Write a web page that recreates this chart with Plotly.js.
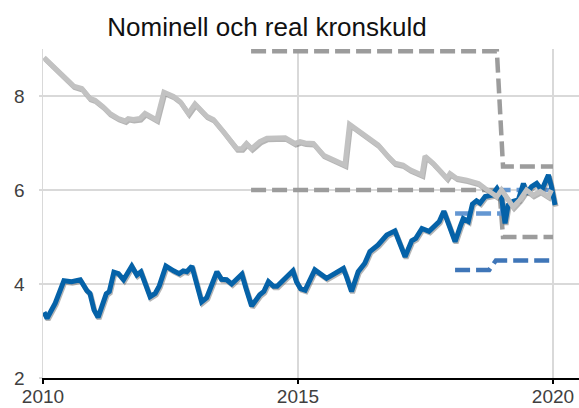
<!DOCTYPE html>
<html>
<head>
<meta charset="utf-8">
<script src="https://cdn.plot.ly/plotly-3.0.1.min.js"></script>
<style>html,body{margin:0;padding:0;background:#fff;}#chart{width:579px;height:408px;}</style>
</head>
<body>
<div id="chart"></div>
<script>
// Nominell kronskuld (blue) – decimal years and values
const nomYears = [2010.02,2010.08,2010.24,2010.41,2010.56,2010.73,2010.86,2010.92,2011.00,2011.08,2011.24,2011.30,2011.39,2011.48,2011.58,2011.74,2011.84,2011.92,2012.10,2012.20,2012.28,2012.41,2012.56,2012.67,2012.75,2012.82,2012.92,2013.11,2013.21,2013.41,2013.50,2013.60,2013.70,2013.90,2013.98,2014.09,2014.25,2014.33,2014.42,2014.52,2014.59,2014.78,2014.90,2014.97,2015.05,2015.14,2015.33,2015.56,2015.76,2015.89,2015.95,2016.05,2016.18,2016.31,2016.41,2016.57,2016.74,2016.90,2017.10,2017.23,2017.31,2017.43,2017.57,2017.72,2017.77,2017.86,2017.95,2018.08,2018.18,2018.24,2018.34,2018.42,2018.50,2018.57,2018.67,2018.80,2018.90,2018.99,2019.06,2019.12,2019.22,2019.32,2019.42,2019.48,2019.58,2019.68,2019.78,2019.91,2019.97,2020.04];
const nomValues = [3.40,3.27,3.59,4.07,4.05,4.09,3.86,3.80,3.45,3.29,3.79,3.84,4.25,4.22,4.09,4.38,4.19,4.26,3.73,3.80,3.96,4.38,4.28,4.22,4.28,4.26,4.38,3.62,3.71,4.26,4.10,4.09,4.00,4.21,3.91,3.53,3.77,3.84,4.05,3.95,3.95,4.14,4.28,4.05,3.90,3.87,4.30,4.12,4.26,4.33,4.16,3.84,4.26,4.44,4.69,4.83,5.04,5.13,4.58,4.92,4.97,5.18,5.12,5.26,5.33,5.55,5.26,4.90,5.22,5.39,5.33,5.70,5.77,5.72,5.86,5.89,6.03,5.86,5.29,5.68,5.76,5.79,6.14,5.93,6.07,6.14,6.00,6.32,6.07,5.68];

// Real kronskuld (grey)
const realYears = [2010.02,2010.33,2010.46,2010.60,2010.76,2010.92,2011.02,2011.18,2011.31,2011.48,2011.61,2011.67,2011.77,2011.90,2012.00,2012.23,2012.37,2012.56,2012.69,2012.85,2012.98,2013.21,2013.34,2013.54,2013.67,2013.80,2013.90,2013.99,2014.09,2014.25,2014.39,2014.75,2014.94,2015.04,2015.14,2015.30,2015.50,2015.66,2015.76,2015.92,2016.01,2016.18,2016.38,2016.57,2016.77,2016.90,2017.06,2017.20,2017.43,2017.49,2017.65,2017.92,2017.98,2018.11,2018.31,2018.54,2018.67,2018.80,2018.90,2018.99,2019.12,2019.22,2019.35,2019.48,2019.61,2019.75,2019.91,2019.97];
const realValues = [8.82,8.47,8.36,8.21,8.16,7.95,7.91,7.77,7.63,7.52,7.47,7.52,7.50,7.52,7.63,7.49,8.08,7.99,7.88,7.63,7.83,7.57,7.50,7.24,7.06,6.88,6.88,6.99,6.88,7.03,7.10,7.11,6.99,7.03,7.00,6.99,6.74,6.67,6.61,6.53,7.40,7.26,7.10,6.96,6.71,6.57,6.53,6.43,6.32,6.72,6.57,6.25,6.35,6.25,6.21,6.14,6.03,5.93,5.86,6.00,5.79,5.64,5.79,6.00,5.89,5.97,5.86,6.00];

// Target/interval dashed lines
const greyUpperYears = [2014.08, 2018.90, 2019.02, 2020.0];
const greyUpperValues = [8.95, 8.95, 6.5, 6.5];
const greyLowerYears = [2014.08, 2018.95, 2019.02, 2020.0];
const greyLowerValues = [6.0, 6.0, 5.0, 5.0];
const blueUpperYears = [2018.08, 2019.0, 2019.02, 2020.0];
const blueUpperValues = [5.5, 5.5, 6.0, 6.0];
const blueLowerYears = [2018.08, 2018.75, 2018.88, 2020.0];
const blueLowerValues = [4.3, 4.3, 4.5, 4.5];

const xTicks = [2010, 2015, 2020];
const yTicks = [2, 4, 6, 8];
const titleText = 'Nominell och real kronskuld';

const xr = [2010, 2020.51], yr = [2, 9];
const pxX = (xr[1]-xr[0]) / 536, pxY = (yr[1]-yr[0]) / 329;
const shX = [xr[0]-1*pxX, xr[1]-1*pxX], shY = [yr[0]+1.5*pxY, yr[1]+1.5*pxY];

const dashStyle = '15px,6px';
const traces = [
  {x: greyUpperYears, y: greyUpperValues, mode:'lines', line:{color:'#9c9c9c', width:4.5, dash:dashStyle}, xaxis:'x', yaxis:'y'},
  {x: greyLowerYears, y: greyLowerValues, mode:'lines', line:{color:'#9c9c9c', width:4.5, dash:dashStyle}, xaxis:'x', yaxis:'y'},
  {x: blueUpperYears, y: blueUpperValues, mode:'lines', line:{color:'#6497d2', width:4.5, dash:dashStyle}, xaxis:'x', yaxis:'y'},
  {x: blueLowerYears, y: blueLowerValues, mode:'lines', line:{color:'#3f76b8', width:4.5, dash:dashStyle}, xaxis:'x', yaxis:'y'},
  // shadows
  {x: nomYears, y: nomValues, mode:'lines', line:{color:'rgba(90,90,90,0.45)', width:5}, xaxis:'x2', yaxis:'y2'},
  {x: realYears, y: realValues, mode:'lines', line:{color:'rgba(90,90,90,0.45)', width:5}, xaxis:'x2', yaxis:'y2'},
  // main lines
  {x: nomYears, y: nomValues, mode:'lines', line:{color:'#0562a8', width:5}, xaxis:'x3', yaxis:'y3'},
  {x: realYears, y: realValues, mode:'lines', line:{color:'#c2c2c2', width:5}, xaxis:'x3', yaxis:'y3'}
];

const hidden = {visible:false, showgrid:false, zeroline:false, fixedrange:true};
const layout = {
  width:579, height:408,
  margin:{l:43, r:0, t:49, b:30, pad:0},
  paper_bgcolor:'#ffffff', plot_bgcolor:'#ffffff',
  showlegend:false,
  font:{family:'"Liberation Sans", Arial, sans-serif', color:'#404040'},
  title:{text:titleText, font:{size:26, color:'#111111', family:'"Liberation Sans", Arial, sans-serif'}, x:267/579, xanchor:'center', xref:'container', y:1-27/408, yanchor:'middle', yref:'container'},
  xaxis:{range:xr, tickvals:xTicks, ticktext:xTicks.map(String), showgrid:true, gridcolor:'#d9d9d9', gridwidth:1.5, zeroline:false, showline:true, linecolor:'#000000', linewidth:2, ticks:'outside', ticklen:4, tickwidth:2, tickcolor:'#000000', ticklabelstandoff:-4, tickfont:{size:19, color:'#404040'}},
  yaxis:{range:yr, tickvals:yTicks, ticktext:yTicks.map(String), showgrid:true, gridcolor:'#d9d9d9', gridwidth:1.5, zeroline:false, showline:true, linecolor:'#d9d9d9', linewidth:1.5, ticks:'outside', ticklen:3, tickcolor:'#d9d9d9', tickwidth:1.5, ticklabelstandoff:10, tickfont:{size:19, color:'#404040'}},
  xaxis2:Object.assign({overlaying:'x', range:shX}, hidden),
  yaxis2:Object.assign({overlaying:'y', range:shY}, hidden),
  xaxis3:Object.assign({overlaying:'x', range:xr}, hidden),
  yaxis3:Object.assign({overlaying:'y', range:yr}, hidden)
};
Plotly.newPlot('chart', traces, layout, {staticPlot:true, displayModeBar:false});
</script>
</body>
</html>
